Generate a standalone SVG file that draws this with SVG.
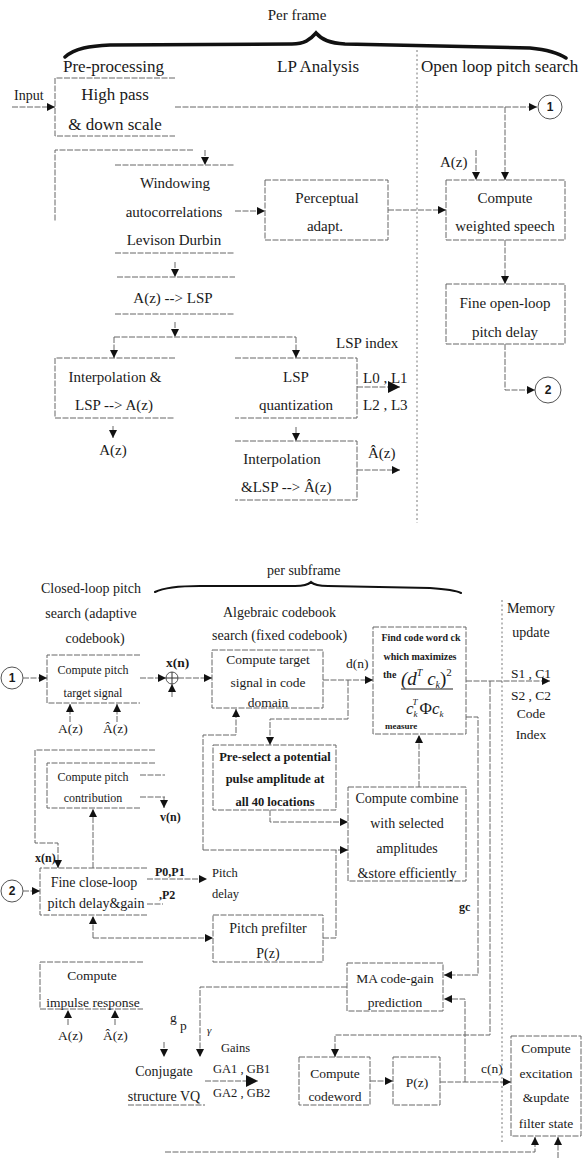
<svg xmlns="http://www.w3.org/2000/svg" width="583" height="1158" viewBox="0 0 583 1158">
<defs>
<style>
text{font-family:"Liberation Serif","Times New Roman",serif;fill:#1a1a1a}
.h{font-size:17px}
.m{font-size:15px}
.s{font-size:14px}
.t{font-size:13.5px}
.u{font-size:12.5px}
.v{font-size:12px}
.bd{font-weight:bold}
.ctr{text-anchor:middle}
.b{fill:none;stroke:#666;stroke-width:1;stroke-dasharray:6 1.5}
.c{fill:none;stroke:#666;stroke-width:1;stroke-dasharray:6 1.5}
.sep{fill:none;stroke:#777;stroke-width:1;stroke-dasharray:2 2.5}
.br{fill:none;stroke:#111;stroke-linecap:round}
.cir{fill:none;stroke:#555;stroke-width:1}
.num{font-family:"Liberation Sans",Arial,sans-serif;font-weight:bold;font-size:12px}
</style>
<marker id="a" viewBox="0 0 10 10" refX="10" refY="5" markerWidth="9" markerHeight="8" markerUnits="userSpaceOnUse" orient="auto"><path d="M0,0 L10,5 L0,10 z" fill="#111"/></marker>
<marker id="A" viewBox="0 0 10 10" refX="10" refY="5" markerWidth="14" markerHeight="12" markerUnits="userSpaceOnUse" orient="auto"><path d="M0,0 L10,5 L0,10 z" fill="#111"/></marker>
</defs>
<rect width="583" height="1158" fill="#fff"/>

<g id="header-top">
<text class="m ctr" x="297" y="20">Per frame</text>
<path class="br" stroke-width="3.5" d="M65,57 C75,48 90,46 110,45 L292,44 C304,44 310,40 316,33 C322,40 330,43 345,44 L530,48 C550,50 560,54 566,58"/>
<text class="h" x="63" y="72">Pre-processing</text>
<text class="h" x="277" y="72">LP Analysis</text>
<text class="h" x="421" y="72">Open loop pitch search</text>
<line class="sep" x1="417" y1="50" x2="417" y2="523"/>
<text style="font-size:14px" x="14" y="100">Input</text>
</g>

<g id="highpass">
<path class="b" d="M175,78 H55 V136 H175"/>
<text class="h ctr" x="115" y="100">High pass</text>
<text class="h ctr" x="115" y="130">&amp; down scale</text>
</g>

<g id="windowing">
<path class="b" d="M193,150 H55 V222"/>
<path class="b" d="M115,165 H235 M115,253 H235"/>
<text class="m ctr" x="175" y="188">Windowing</text>
<text class="m ctr" x="174" y="217">autocorrelations</text>
<text class="m ctr" x="174" y="245">Levison Durbin</text>
</g>

<g id="az-lsp">
<path class="b" d="M117,277 H235 M115,314 H235"/>
<text class="m ctr" x="173" y="303">A(z) --&gt; LSP</text>
</g>

<g id="perceptual">
<rect class="b" x="265" y="180" width="123" height="60"/>
<text class="m ctr" x="327" y="203">Perceptual</text>
<text class="m ctr" x="325" y="231">adapt.</text>
</g>

<g id="weighted">
<rect class="b" x="446" y="180" width="119" height="60"/>
<text class="m ctr" x="505" y="203">Compute</text>
<text class="m ctr" x="505" y="231">weighted speech</text>
<text class="m" x="440" y="167">A(z)</text>
</g>

<g id="fineopen">
<rect class="b" x="446" y="284" width="119" height="60"/>
<text class="m ctr" x="505" y="308">Fine open-loop</text>
<text class="m ctr" x="505" y="337">pitch delay</text>
</g>

<g id="circle1-top">
<circle class="cir" cx="550" cy="107" r="12"/>
<text class="num ctr" x="550" y="111">1</text>
</g>
<g id="circle2-top">
<circle class="cir" cx="548" cy="390" r="13"/>
<text class="num ctr" x="548" y="394">2</text>
</g>

<g id="interp1">
<path class="b" d="M175,358 H55 V418 H175"/>
<text class="m ctr" x="115" y="382">Interpolation &amp;</text>
<text class="m ctr" x="114" y="410">LSP --&gt; A(z)</text>
<text class="m ctr" x="113" y="455">A(z)</text>
</g>

<g id="lspq">
<path class="b" d="M235,358 H357 V418 H235"/>
<text class="m ctr" x="296" y="382">LSP</text>
<text class="m ctr" x="296" y="410">quantization</text>
<text class="m" x="336" y="348">LSP index</text>
<text class="m" x="363" y="383">L0 , L1</text>
<text class="m" x="363" y="410">L2 , L3</text>
</g>

<g id="interp2">
<path class="b" d="M235,441 H357 V500 H235"/>
<text class="m ctr" x="282" y="464">Interpolation</text>
<text class="m" x="241" y="492">&amp;LSP --&gt;  Â(z)</text>
<text class="m" x="368" y="458">Â(z)</text>
</g>

<g id="header-bottom">
<text class="s" x="267" y="575">per subframe</text>
<path class="br" stroke-width="2" d="M155,592 C165,587 180,586 200,586 L295,586 C303,586 308,585 311,582 C314,585 320,586 328,586 L430,588 C445,589 455,590 461,593"/>
<text class="s ctr" x="91" y="593">Closed-loop pitch</text>
<text class="s ctr" x="91" y="618">search (adaptive</text>
<text class="s ctr" x="95" y="643">codebook)</text>
<text class="s" x="223" y="617">Algebraic codebook</text>
<text class="s" x="212" y="640">search (fixed codebook)</text>
<text class="s ctr" x="531" y="613">Memory</text>
<text class="s ctr" x="531" y="637">update</text>
<line class="sep" x1="502" y1="600" x2="502" y2="1142"/>
</g>

<g id="circle1-bottom">
<circle class="cir" cx="12" cy="678" r="11"/>
<text class="num ctr" x="12" y="682">1</text>
</g>
<g id="circle2-bottom">
<circle class="cir" cx="12" cy="891" r="11"/>
<text class="num ctr" x="12" y="895">2</text>
</g>

<g id="pitch-target">
<path class="b" d="M140,655 H47 V703 H140"/>
<text class="v ctr" x="93" y="674">Compute pitch</text>
<text class="v ctr" x="93" y="697">target signal</text>
<text class="t" x="58" y="733">A(z)</text>
<text class="t" x="103" y="733">Â(z)</text>
</g>

<g id="adder">
<circle class="cir" cx="172" cy="678" r="6"/>
<path d="M166,678 H178 M172,672 V684" stroke="#333" stroke-width="1"/>
<text class="t bd" x="166" y="667">x(n)</text>
</g>

<g id="target-code">
<rect class="b" x="212" y="650" width="111" height="58"/>
<text class="t ctr" x="268" y="664">Compute target</text>
<text class="t ctr" x="268" y="687">signal in code</text>
<text class="t ctr" x="268" y="707">domain</text>
<text class="t" x="346" y="668">d(n)</text>
</g>

<g id="findcode">
<rect class="b" x="373" y="627" width="93" height="107"/>
<text class="bd ctr" style="font-size:10px" x="421" y="641">Find code word ck</text>
<text class="bd ctr" style="font-size:10px" x="420" y="660">which maximizes</text>
<text class="bd" style="font-size:10px" x="383" y="678">the</text>
<text style="font-size:19px;font-style:italic" x="401" y="685">(d<tspan style="font-size:10px" dy="-9">T</tspan><tspan dy="9"> c</tspan><tspan style="font-size:10px" dy="3">k</tspan><tspan dy="-3" style="font-style:normal">)</tspan><tspan style="font-size:11px;font-style:normal" dy="-9">2</tspan></text>
<line x1="401" y1="689" x2="453" y2="689" stroke="#222" stroke-width="1.2"/>
<text style="font-size:17px;font-style:italic" x="406" y="714">c<tspan style="font-size:9px" dy="3">k</tspan><tspan style="font-size:9px" dx="-5" dy="-12">T</tspan><tspan dx="2" dy="9" style="font-style:normal">Φ</tspan><tspan>c</tspan><tspan style="font-size:9px" dy="3">k</tspan></text>
<text class="bd" style="font-size:9px" x="385" y="729">measure</text>
</g>

<g id="memory-out">
<text class="t ctr" x="531" y="678">S1 , C1</text>
<text class="t ctr" x="531" y="700">S2 , C2</text>
<text class="t ctr" x="531" y="718">Code</text>
<text class="t ctr" x="531" y="739">Index</text>
</g>

<g id="preselect">
<rect class="b" x="213" y="745" width="123" height="65"/>
<text class="u bd ctr" x="275" y="761">Pre-select a potential</text>
<text class="u bd ctr" x="275" y="783">pulse amplitude at</text>
<text class="u bd ctr" x="275" y="806">all 40 locations</text>
</g>

<g id="combine">
<rect class="b" x="348" y="787" width="118" height="94"/>
<text class="s ctr" x="407" y="803">Compute combine</text>
<text class="s ctr" x="407" y="828">with selected</text>
<text class="s ctr" x="407" y="853">amplitudes</text>
<text class="s ctr" x="407" y="878">&amp;store efficiently</text>
</g>

<g id="contribution">
<path class="b" d="M155,763 H47 V808 H140"/>
<path class="c" d="M140,775 H165 M140,797 H165"/>
<text class="v ctr" x="93" y="781">Compute pitch</text>
<text class="v ctr" x="93" y="802">contribution</text>
<text class="v bd" x="160" y="821">v(n)</text>
</g>

<g id="fineclose">
<path class="b" d="M147,868 H40 V915 H147"/>
<text class="s ctr" x="94" y="887">Fine close-loop</text>
<text class="s ctr" x="96" y="908">pitch delay&amp;gain</text>
<text class="v bd" x="35" y="862">x(n)</text>
<text class="v bd" x="155" y="876">P0,P1</text>
<text class="v bd" x="159" y="899">,P2</text>
<text class="u" x="212" y="877">Pitch</text>
<text class="u" x="212" y="898">delay</text>
</g>

<g id="prefilter">
<rect class="b" x="213" y="915" width="110" height="47"/>
<text class="s ctr" x="268" y="933">Pitch prefilter</text>
<text class="s ctr" x="268" y="958">P(z)</text>
</g>

<g id="impulse">
<path class="b" d="M143,962 H40 V1009 H143"/>
<text class="t ctr" x="92" y="980">Compute</text>
<text class="t ctr" x="93" y="1007">impulse response</text>
<text class="t" x="58" y="1040">A(z)</text>
<text class="t" x="103" y="1040">Â(z)</text>
</g>

<g id="ma-gain">
<rect class="b" x="347" y="963" width="96" height="48"/>
<text class="t ctr" x="395" y="983">MA code-gain</text>
<text class="t ctr" x="395" y="1007">prediction</text>
<text class="v bd" x="459" y="911">gc</text>
</g>

<g id="conjugate">
<path class="b" d="M128,1105 H205"/>
<text class="s ctr" x="164" y="1076">Conjugate</text>
<text class="s ctr" x="164" y="1101">structure VQ</text>
<text class="t" x="170" y="1022">g</text>
<text class="t" x="180" y="1030">p</text>
<text style="font-size:11px;font-style:italic" x="207" y="1034">γ</text>
<text class="u" x="221" y="1052">Gains</text>
<text class="u" x="213" y="1073">GA1 , GB1</text>
<text class="u" x="213" y="1097">GA2 , GB2</text>
</g>

<g id="codeword">
<rect class="b" x="299" y="1057" width="71" height="48"/>
<text class="t ctr" x="335" y="1078">Compute</text>
<text class="t ctr" x="335" y="1101">codeword</text>
</g>

<g id="pz">
<rect class="b" x="393" y="1057" width="47" height="48"/>
<text class="t ctr" x="417" y="1087">P(z)</text>
<text class="t" x="481" y="1073">c(n)</text>
</g>

<g id="excitation">
<rect class="b" x="511" y="1036" width="70" height="100"/>
<text class="t ctr" x="546" y="1053">Compute</text>
<text class="t ctr" x="546" y="1078">excitation</text>
<text class="t ctr" x="546" y="1102">&amp;update</text>
<text class="t ctr" x="546" y="1128">filter state</text>
</g>

<g id="connectors">
<path class="c" d="M12,107 H55" marker-end="url(#a)"/>
<path class="c" d="M175,107 H537" marker-end="url(#a)"/>
<path class="c" d="M505,107 V180" marker-end="url(#a)"/>
<path class="c" d="M476,150 V180" marker-end="url(#a)"/>
<path class="c" d="M505,240 V284" marker-end="url(#a)"/>
<path class="c" d="M505,344 V390 H535" marker-end="url(#a)"/>
<path class="c" d="M205,150 V165" marker-end="url(#a)"/>
<path class="c" d="M235,211 H265" marker-end="url(#a)"/>
<path class="c" d="M388,210 H446" marker-end="url(#a)"/>
<path class="c" d="M175,262 V277" marker-end="url(#a)"/>
<path class="c" d="M175,322 V337" marker-end="url(#a)"/>
<path class="c" d="M114,337 H296"/>
<path class="c" d="M114,337 V358" marker-end="url(#a)"/>
<path class="c" d="M296,337 V358" marker-end="url(#a)"/>
<path class="c" d="M357,387 H400" marker-end="url(#A)"/>
<path class="c" d="M113,426 V438" marker-end="url(#a)"/>
<path class="c" d="M296,427 V441" marker-end="url(#a)"/>
<path class="c" d="M357,470 H400" marker-end="url(#a)"/>
<path class="c" d="M23,678 H47" marker-end="url(#a)"/>
<path class="c" d="M140,678 H166" marker-end="url(#a)"/>
<path class="c" d="M172,697 V684" marker-end="url(#a)"/>
<path class="c" d="M178,678 H212" marker-end="url(#a)"/>
<path class="c" d="M70,722 V704" marker-end="url(#a)"/>
<path class="c" d="M117,722 V704" marker-end="url(#a)"/>
<path class="c" d="M323,680 H373" marker-end="url(#a)"/>
<path class="c" d="M348,680 V719 H270 V745" marker-end="url(#a)"/>
<path class="c" d="M203,850 V735 H236 V709" marker-end="url(#a)"/>
<path class="c" d="M270,810 V822 H348" marker-end="url(#a)"/>
<path class="c" d="M203,850 H348" marker-end="url(#a)"/>
<path class="c" d="M323,938 H336 V850"/>
<path class="c" d="M419,787 V735" marker-end="url(#a)"/>
<path class="c" d="M466,681 H550" marker-end="url(#a)"/>
<path class="c" d="M490,681 V1035 H335 V1057" marker-end="url(#a)"/>
<path class="c" d="M466,717 H478 V975 H444" marker-end="url(#a)"/>
<path class="c" d="M465,1082 V999 H444" marker-end="url(#a)"/>
<path class="c" d="M370,1081 H393" marker-end="url(#a)"/>
<path class="c" d="M440,1082 H511" marker-end="url(#a)"/>
<path class="c" d="M155,750 H35 V843 H58 V868" marker-end="url(#a)"/>
<path class="c" d="M164,797 V808" marker-end="url(#a)"/>
<path class="c" d="M93,868 V809" marker-end="url(#a)"/>
<path class="c" d="M23,891 H40" marker-end="url(#a)"/>
<path class="c" d="M147,879 H207" marker-end="url(#a)"/>
<path class="c" d="M147,904 H163"/>
<path class="c" d="M93,938 V916" marker-end="url(#a)"/>
<path class="c" d="M93,938 H213" marker-end="url(#a)"/>
<path class="c" d="M68,1025 V1010" marker-end="url(#a)"/>
<path class="c" d="M115,1025 V1010" marker-end="url(#a)"/>
<path class="c" d="M347,987 H200 V1057" marker-end="url(#a)"/>
<path class="c" d="M164,1042 V1057" marker-end="url(#a)"/>
<path class="c" d="M205,1081 H258" marker-end="url(#A)"/>
<path class="c" d="M165,1152 H535 V1137" marker-end="url(#a)"/>
<path class="c" d="M558,1158 V1137" marker-end="url(#a)"/>
</g>
</svg>
